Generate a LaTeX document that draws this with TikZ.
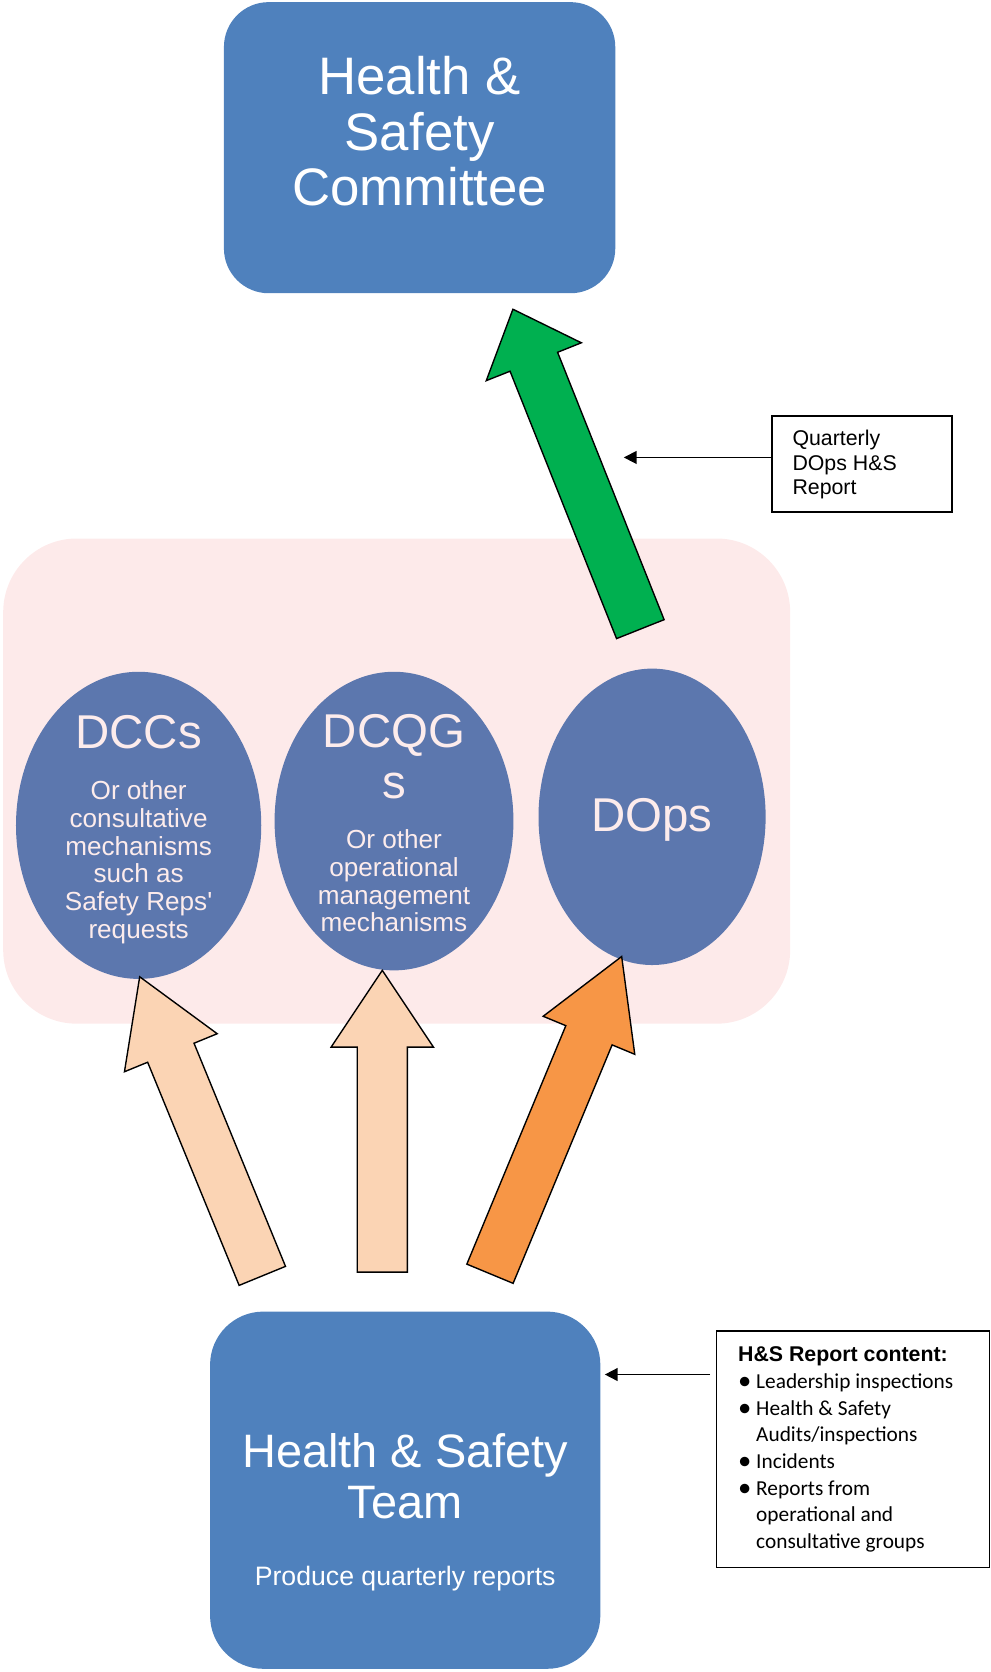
\documentclass[tikz,border=0pt]{standalone}
\usepackage{fontspec}
\setmainfont{Liberation Sans}
\newfontfamily\calibrifont{Carlito}
\usetikzlibrary{calc,shapes.geometric,arrows.meta}
\definecolor{boxblue}{HTML}{4F81BD}
\definecolor{ellblue}{HTML}{5C77AE}
\definecolor{pinkbg}{HTML}{FDEAEA}
\definecolor{elltext}{HTML}{FDECEC}
\definecolor{arrgreen}{HTML}{00B050}
\definecolor{peach}{HTML}{FBD4B4}
\definecolor{arrorange}{HTML}{F79646}
\newcommand\textrows[2]{\begin{tabular}[t]{@{}#1@{}}#2\end{tabular}}
\newcommand\straightquote{\XeTeXglyph\XeTeXcharglyph"27\relax}
\newcommand\itembullet{\makebox[17pt][l]{\raisebox{-1.5pt}{\fontsize{25}{25}\selectfont\textbullet}}}
\newcommand\blockarrow[6]{%
  \coordinate (#2-neck) at ($(#2)!#5!(#1)$);
  \draw[blockarrowline, fill=#6]
    ($(#1)!#3!90:(#2)$) -- ($(#2-neck)!#3!90:(#2)$) -- ($(#2-neck)!#4!90:(#2)$)
    -- (#2) -- ($(#2-neck)!#4!-90:(#2)$) -- ($(#2-neck)!#3!-90:(#2)$)
    -- ($(#1)!#3!-90:(#2)$) -- cycle;}
\begin{document}
\begin{tikzpicture}[x=1pt,y=-1pt,
  blockarrowline/.style={draw=black, line width=1.3pt, line join=miter},
  bluebox/.style={rectangle, fill=boxblue, inner sep=0pt},
  ellnode/.style={ellipse, fill=ellblue, inner sep=0pt},
  whitetext/.style={text=white, inner sep=0pt},
  elltitle/.style={text=elltext, inner sep=0pt, font=\fontsize{44.5}{47.5}\selectfont},
  ellbody/.style={text=elltext, inner sep=0pt, font=\fontsize{24.5}{26}\selectfont},
  notebox/.style={rectangle, draw=black, line width=1.5pt, fill=white, inner sep=0pt},
  smallarrow/.style={draw=black, line width=1.5pt, -{Triangle[length=12pt,width=12pt]}}]
\useasboundingbox (0,0) rectangle (929,1568);

% top committee box
\node[bluebox, rounded corners=42pt, minimum width=367pt, minimum height=273pt] (committee) at (393.5,138.5) {};
\node[whitetext, anchor=base, font=\fontsize{49.5}{52}\selectfont] (committee-text) at (393.5,89)
  {\textrows{c}{Health \&\\Safety\\Committee}};

% pink background area
\node[rectangle, fill=pinkbg, rounded corners=69pt, minimum width=738pt, minimum height=455pt, inner sep=0pt] (pinkarea) at (372,732.5) {};

% ellipses
\node[ellnode, minimum width=230pt, minimum height=288pt] (dccs) at (130,774) {};
\node[ellnode, minimum width=224pt, minimum height=280pt] (dcqgs) at (369.5,770) {};
\node[ellnode, minimum width=213pt, minimum height=278pt] (dops) at (611.5,766) {};

\node[elltitle, anchor=base] (dccs-title) at (130,702) {DCCs};
\node[ellbody, anchor=base] (dccs-body) at (130,750)
  {\textrows{c}{Or other\\consultative\\mechanisms\\such as\\Safety Reps\straightquote\\requests}};
\node[elltitle, anchor=base] (dcqgs-title) at (369.5,701) {\textrows{c}{DCQG\\s}};
\node[ellbody, anchor=base] (dcqgs-body) at (369.5,796)
  {\textrows{c}{Or other\\operational\\management\\mechanisms}};
\node[elltitle, anchor=base] (dops-title) at (611.5,780) {DOps};

% green arrow
\coordinate (gbase) at (600.5,590);
\coordinate (gtip) at (481,290);
\blockarrow{gbase}{gtip}{24pt}{48pt}{53pt}{arrgreen}

% quarterly note
\node[notebox, minimum width=169pt, minimum height=90pt] (qbox) at (808.5,435) {};
\node[anchor=base west, inner sep=0pt, font=\fontsize{20}{23}\selectfont] (qbox-text) at (743,418)
  {\textrows{l}{Quarterly\\DOps H\&S\\Report}};
\coordinate (qtarget) at (585,429);
\draw[smallarrow] (qbox.west |- qtarget) -- (qtarget);

% bottom arrows
\coordinate (abase) at (246,1196.5);
\coordinate (atip) at (131,916);
\blockarrow{abase}{atip}{23.5pt}{47pt}{77pt}{peach}
\coordinate (bbase) at (358.5,1193);
\coordinate (btip) at (358.5,910);
\blockarrow{bbase}{btip}{23.5pt}{48pt}{72pt}{peach}
\coordinate (cbase) at (459.5,1194.5);
\coordinate (ctip) at (583,897);
\blockarrow{cbase}{ctip}{23.5pt}{46.5pt}{80pt}{arrorange}

% bottom team box
\node[bluebox, rounded corners=50pt, minimum width=366pt, minimum height=335pt] (team) at (380,1397.5) {};
\node[whitetext, anchor=base, font=\fontsize{44}{48}\selectfont] (team-text) at (380,1376)
  {\textrows{c}{Health \& Safety\\Team}};
\node[whitetext, anchor=base, font=\fontsize{25}{28}\selectfont] (team-sub) at (380,1487)
  {Produce quarterly reports};

% report content note
\node[notebox, minimum width=256pt, minimum height=222pt] (content) at (800,1359) {};
\node[anchor=base west, inner sep=0pt, font=\calibrifont\fontsize{20}{25}\selectfont] (content-text) at (692,1277)
  {\textrows{l}{{\rmfamily\bfseries H\&S Report content:}\\
   \itembullet Leadership inspections\\
   \itembullet Health \& Safety\\
   \hspace*{17pt}Audits/inspections\\
   \itembullet Incidents\\
   \itembullet Reports from\\
   \hspace*{17pt}operational and\\
   \hspace*{17pt}consultative groups}};
\coordinate (cfrom) at (666,1289);
\draw[smallarrow, shorten >=4pt] (cfrom) -- (team.east |- cfrom);
\end{tikzpicture}
\end{document}
